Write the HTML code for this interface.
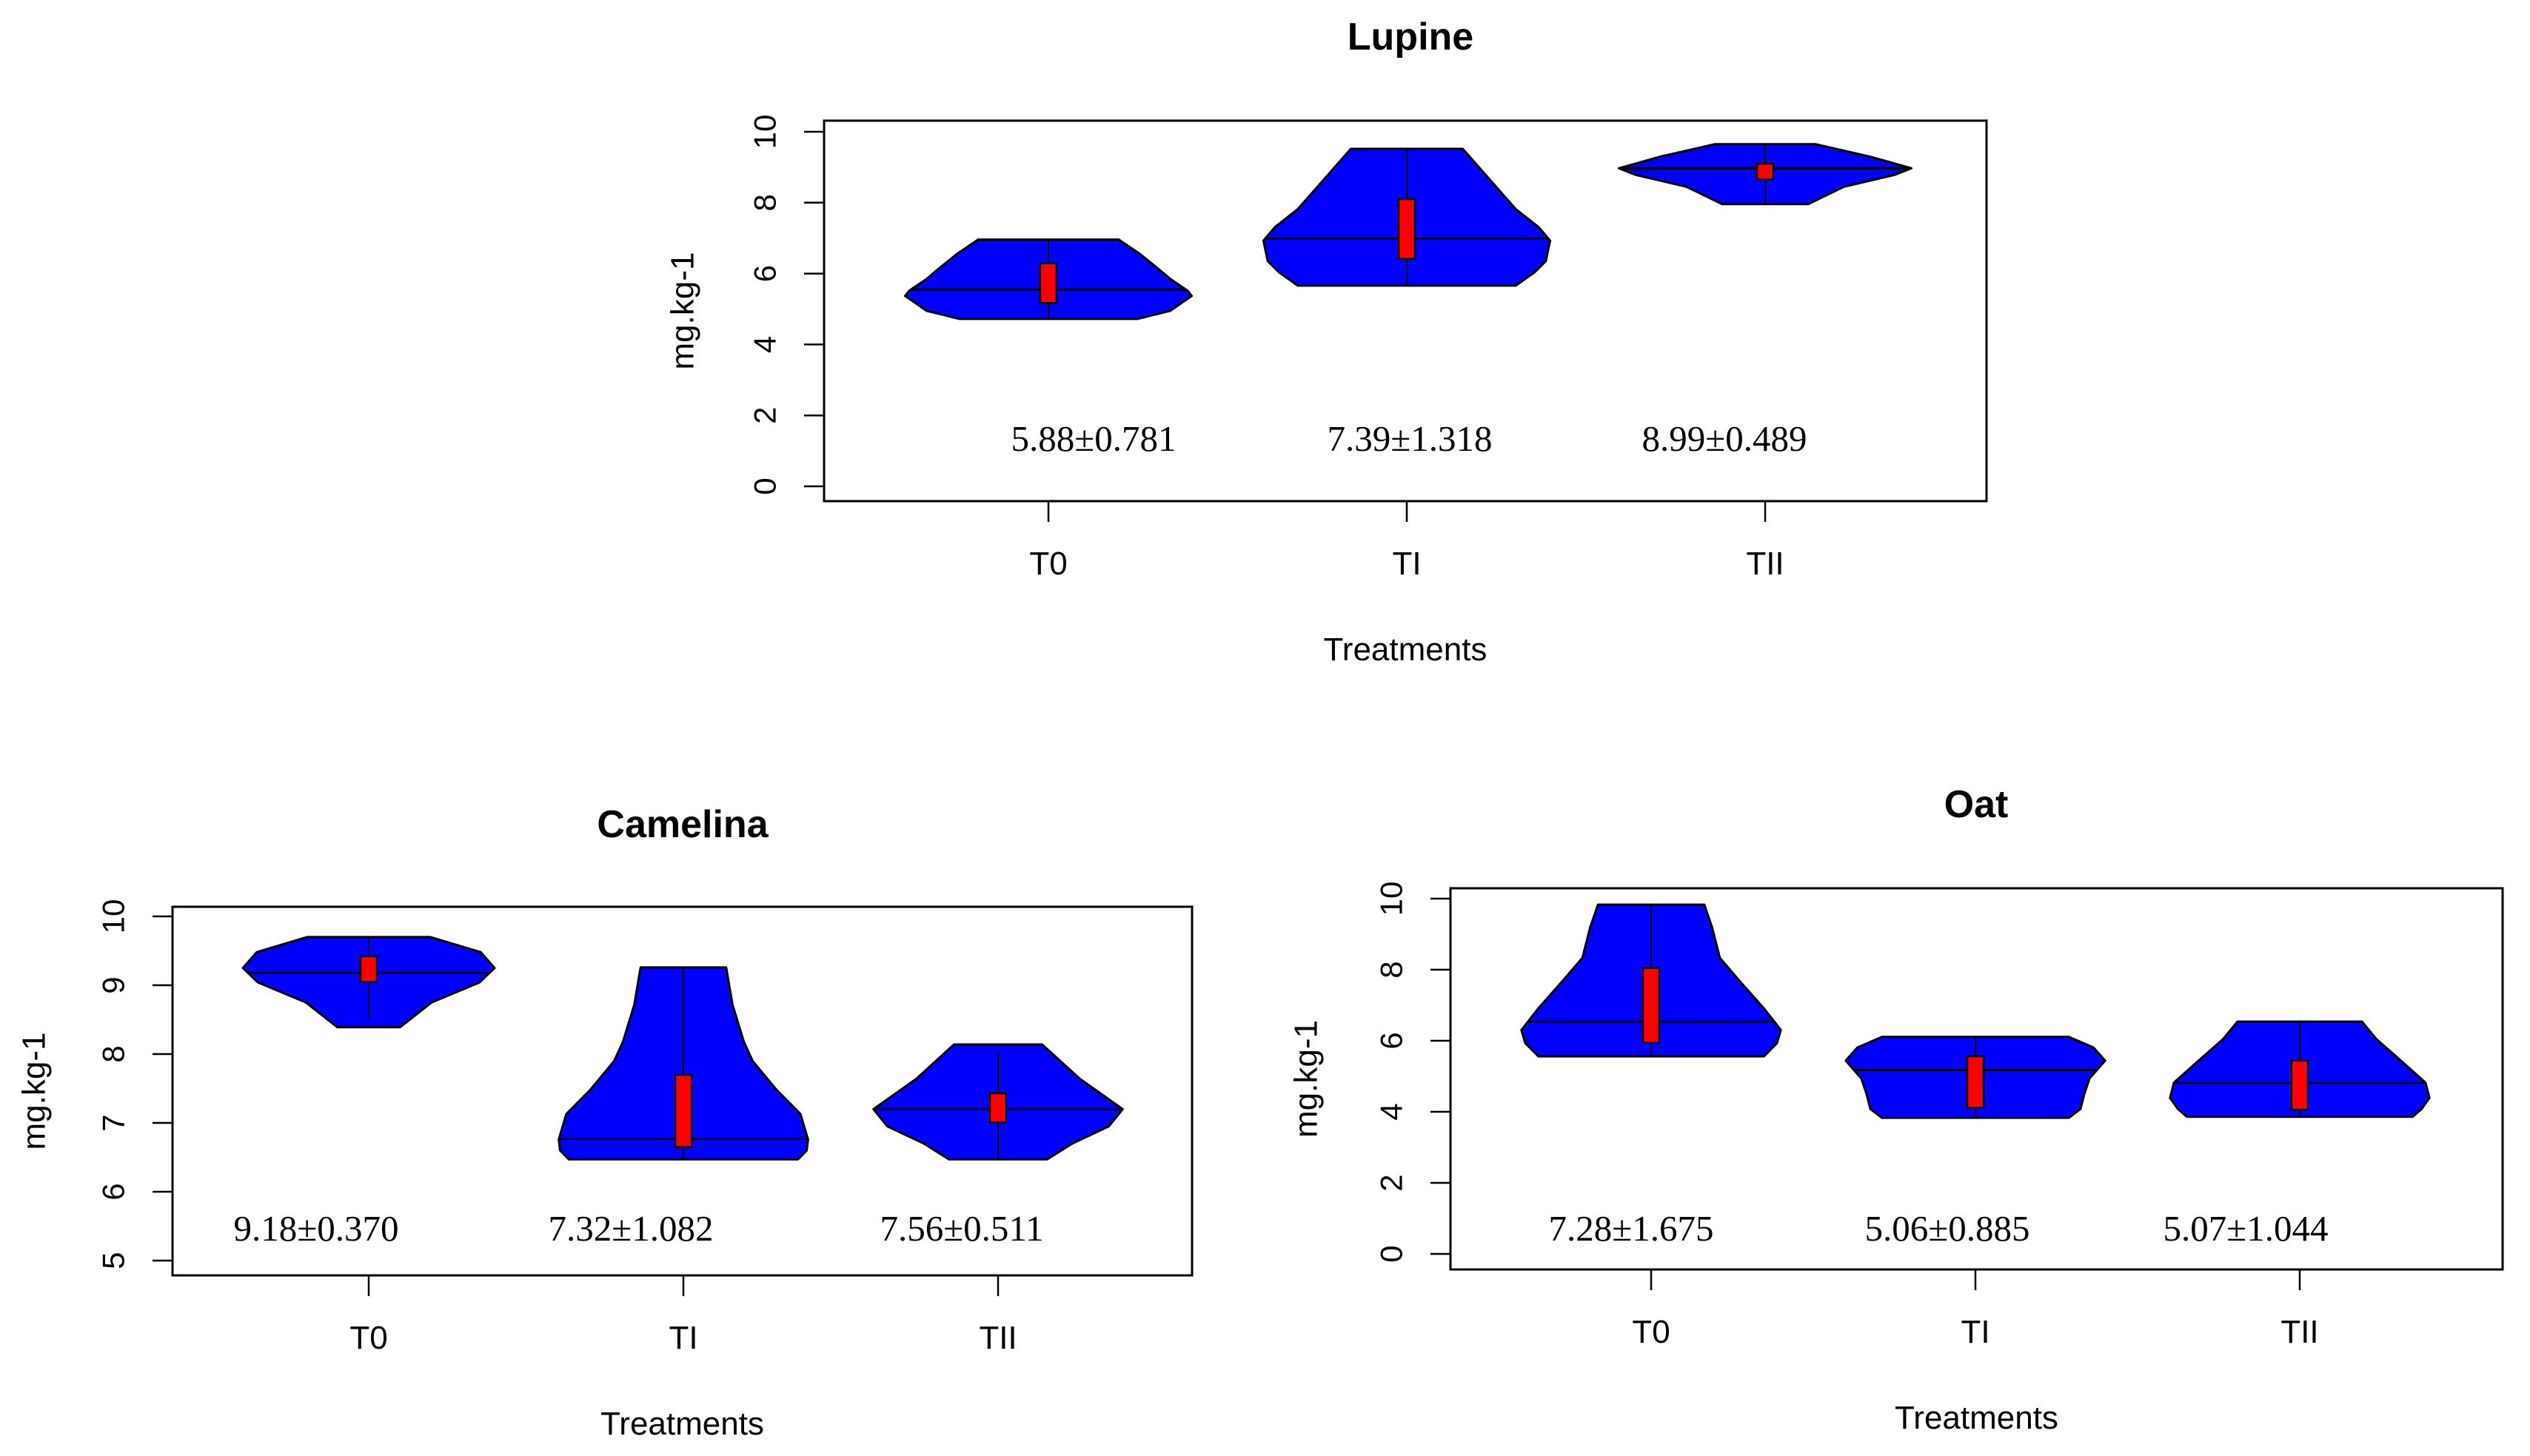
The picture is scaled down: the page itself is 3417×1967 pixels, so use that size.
<!DOCTYPE html>
<html><head><meta charset="utf-8"><style>
html,body{margin:0;padding:0;background:#fff;}
svg{display:block;}
text{font-family:"Liberation Sans",sans-serif;fill:#000;}
.val{font-family:"Liberation Serif",serif;font-size:49px;}
</style></head><body>
<svg id="chart" width="3417" height="1967" viewBox="0 0 3417 1967"></svg>
<script>
// ---------- DATA ----------
const categories = ["T0", "TI", "TII"];

const lupineProfileVals = [[4.72,4.95,5.37,5.52,5.85,6.09,6.55,6.96],[5.66,6.03,6.35,6.93,7.31,7.82,9.52],[7.96,8.45,8.78,8.97,9.29,9.65]];
const lupineProfileWidths = [[0.62,0.85,1.0,0.97,0.85,0.78,0.64,0.49],[0.76,0.89,0.97,1.0,0.92,0.76,0.39],[0.3,0.55,0.9,1.02,0.74,0.35]];
const lupineMedian = [5.55, 6.99, 8.97];
const lupineQ1 = [5.17, 6.42, 8.66];
const lupineQ3 = [6.29, 8.1, 9.1];
const lupineMin = [4.72, 5.66, 7.96];
const lupineMax = [6.96, 9.52, 9.65];
const lupineLabels = ["5.88±0.781", "7.39±1.318", "8.99±0.489"];
const lupineTicks = [0, 2, 4, 6, 8, 10];

const camelinaProfileVals = [[8.39,8.75,9.04,9.25,9.48,9.7],[6.47,6.6,6.76,7.13,7.48,7.9,8.18,8.72,9.26],[6.47,6.7,6.95,7.2,7.64,8.14]];
const camelinaProfileWidths = [[0.25,0.5,0.88,1.0,0.89,0.49],[0.91,0.98,0.99,0.93,0.74,0.55,0.48,0.39,0.34],[0.39,0.59,0.88,0.99,0.65,0.35]];
const camelinaMedian = [9.18, 6.77, 7.2];
const camelinaQ1 = [9.05, 6.65, 7.01];
const camelinaQ3 = [9.42, 7.7, 7.43];
const camelinaMin = [8.53, 6.47, 6.47];
const camelinaMax = [9.7, 9.26, 8.02];
const camelinaLabels = ["9.18±0.370", "7.32±1.082", "7.56±0.511"];
const camelinaTicks = [5, 6, 7, 8, 9, 10];

const oatProfileVals = [[5.56,5.93,6.3,6.91,7.65,8.33,9.19,9.83],[3.83,4.08,4.51,4.94,5.44,5.81,6.11],[3.86,4.08,4.39,4.82,5.44,6.05,6.54]];
const oatProfileWidths = [[0.87,0.97,1.0,0.87,0.69,0.53,0.47,0.41],[0.72,0.81,0.84,0.88,1.0,0.91,0.72],[0.87,0.94,1.0,0.97,0.78,0.59,0.48]];
const oatMedian = [6.54, 5.18, 4.82];
const oatQ1 = [5.95, 4.12, 4.06];
const oatQ3 = [8.05, 5.56, 5.44];
const oatMin = [5.56, 3.83, 3.86];
const oatMax = [9.83, 6.11, 6.54];
const oatLabels = ["7.28±1.675", "5.06±0.885", "5.07±1.044"];
const oatTicks = [0, 2, 4, 6, 8, 10];

// ---------- LAYOUT ----------
const NS = "http://www.w3.org/2000/svg";
const svg = document.getElementById("chart");
function mk(tag, attrs, parent, txt) {
  const e = document.createElementNS(NS, tag);
  for (const k in attrs) e.setAttribute(k, attrs[k]);
  if (txt !== undefined) e.textContent = txt;
  (parent || svg).appendChild(e);
  return e;
}

function panel(p) {
  const g = mk("g", {});
  
  
  const y = v => p.y0 - (v - p.vmin) / (p.vmax - p.vmin) * (p.y0 - p.y1);
  const x = i => p.xc0 + i * p.dx;
  const hw = 0.4 * p.dx;
  const cx = (p.bx0 + p.bx1) / 2;

  const t = mk("text", {x: p.titleX, y: p.titleY, "text-anchor": "middle", "font-size": 52, "font-weight": "bold"}, g, p.title);
  
  

  const box = mk("rect", {x: p.bx0, y: p.by0, width: p.bx1 - p.bx0, height: p.by1 - p.by0, fill: "none", stroke: "#000", "stroke-width": 3}, g);
  
  

  // y axis
  const ya = mk("g", {}, g);
  
  
  p.ticks.forEach(tv => {
    mk("line", {x1: p.bx0 - 27, x2: p.bx0, y1: y(tv), y2: y(tv), stroke: "#000", "stroke-width": 2.5}, ya);
    const lx = p.bx0 - 80, ly = y(tv);
    const tl = mk("text", {x: lx, y: ly, "font-size": 42, "text-anchor": "middle", "dominant-baseline": "central", transform: `rotate(-90 ${lx} ${ly})`}, ya, tv);
    
    
  });
  const yl = mk("text", {x: p.ylabX, y: (p.by0 + p.by1) / 2, "font-size": 44, "text-anchor": "middle", "dominant-baseline": "central", transform: `rotate(-90 ${p.ylabX} ${(p.by0 + p.by1) / 2})`}, g, "mg.kg-1");
  
  

  // x axis
  categories.forEach((c, i) => {
    mk("line", {x1: x(i), x2: x(i), y1: p.by1, y2: p.by1 + 28, stroke: "#000", "stroke-width": 2.5}, g);
    const xl = mk("text", {x: x(i), y: p.by1 + 99, "font-size": 44, "text-anchor": "middle"}, g, c);
    
    
  });
  const xt = mk("text", {x: cx, y: p.by1 + 215, "font-size": 44, "text-anchor": "middle"}, g, "Treatments");
  
  

  // violins
  categories.forEach((c, i) => {
    const vg = mk("g", {}, g);
    
    
    const vals = p.pv[i], ws = p.pw[i];
    let pts = [];
    for (let k = 0; k < vals.length; k++) pts.push([x(i) - ws[k] * hw, y(vals[k])]);
    for (let k = vals.length - 1; k >= 0; k--) pts.push([x(i) + ws[k] * hw, y(vals[k])]);
    mk("polygon", {points: pts.map(q => q.join(",")).join(" "), fill: "#0000ff", stroke: "#000", "stroke-width": 3, "stroke-linejoin": "round"}, vg);
    mk("line", {x1: x(i), x2: x(i), y1: y(p.min[i]), y2: y(p.max[i]), stroke: "#000", "stroke-width": 2}, vg);
    const mv = p.med[i];
    let mw = 1;
    for (let k = 0; k < vals.length - 1; k++) {
      if (mv >= vals[k] && mv <= vals[k + 1]) { const f = (mv - vals[k]) / (vals[k + 1] - vals[k]); mw = ws[k] + f * (ws[k + 1] - ws[k]); }
    }
    mk("line", {x1: x(i) - mw * hw, x2: x(i) + mw * hw, y1: y(mv), y2: y(mv), stroke: "#000", "stroke-width": 3}, vg);
    const r = mk("rect", {x: x(i) - 11, y: y(p.q3[i]), width: 22, height: y(p.q1[i]) - y(p.q3[i]), fill: "#ff0000", stroke: "#000", "stroke-width": 2.5}, vg);
    
    
    const lt = mk("text", {class: "val", x: p.labX[i], y: p.labY, "text-anchor": "middle"}, g, p.labels[i]);
    
    
  });
}

panel({name: "lupine", title: "Lupine", titleX: 1905, titleY: 67,
  bx0: 1113, bx1: 2683, by0: 163, by1: 677, vmin: 0, vmax: 10, y0: 657, y1: 178,
  xc0: 1416, dx: 484, ticks: lupineTicks, ylabX: 922, labX: [1477, 1904, 2329], labY: 609,
  pv: lupineProfileVals, pw: lupineProfileWidths, med: lupineMedian, q1: lupineQ1, q3: lupineQ3, min: lupineMin, max: lupineMax, labels: lupineLabels});

panel({name: "camelina", title: "Camelina", titleX: 922, titleY: 1131,
  bx0: 233, bx1: 1610, by0: 1225, by1: 1723, vmin: 5, vmax: 10, y0: 1703, y1: 1238,
  xc0: 498, dx: 425, ticks: camelinaTicks, ylabX: 46, labX: [427, 852, 1299], labY: 1676,
  pv: camelinaProfileVals, pw: camelinaProfileWidths, med: camelinaMedian, q1: camelinaQ1, q3: camelinaQ3, min: camelinaMin, max: camelinaMax, labels: camelinaLabels});

panel({name: "oat", title: "Oat", titleX: 2669, titleY: 1104,
  bx0: 1959, bx1: 3380, by0: 1200, by1: 1715, vmin: 0, vmax: 10, y0: 1694, y1: 1214,
  xc0: 2230, dx: 438, ticks: oatTicks, ylabX: 1764, labX: [2203, 2630, 3033], labY: 1676,
  pv: oatProfileVals, pw: oatProfileWidths, med: oatMedian, q1: oatQ1, q3: oatQ3, min: oatMin, max: oatMax, labels: oatLabels});
</script>
</body></html>
